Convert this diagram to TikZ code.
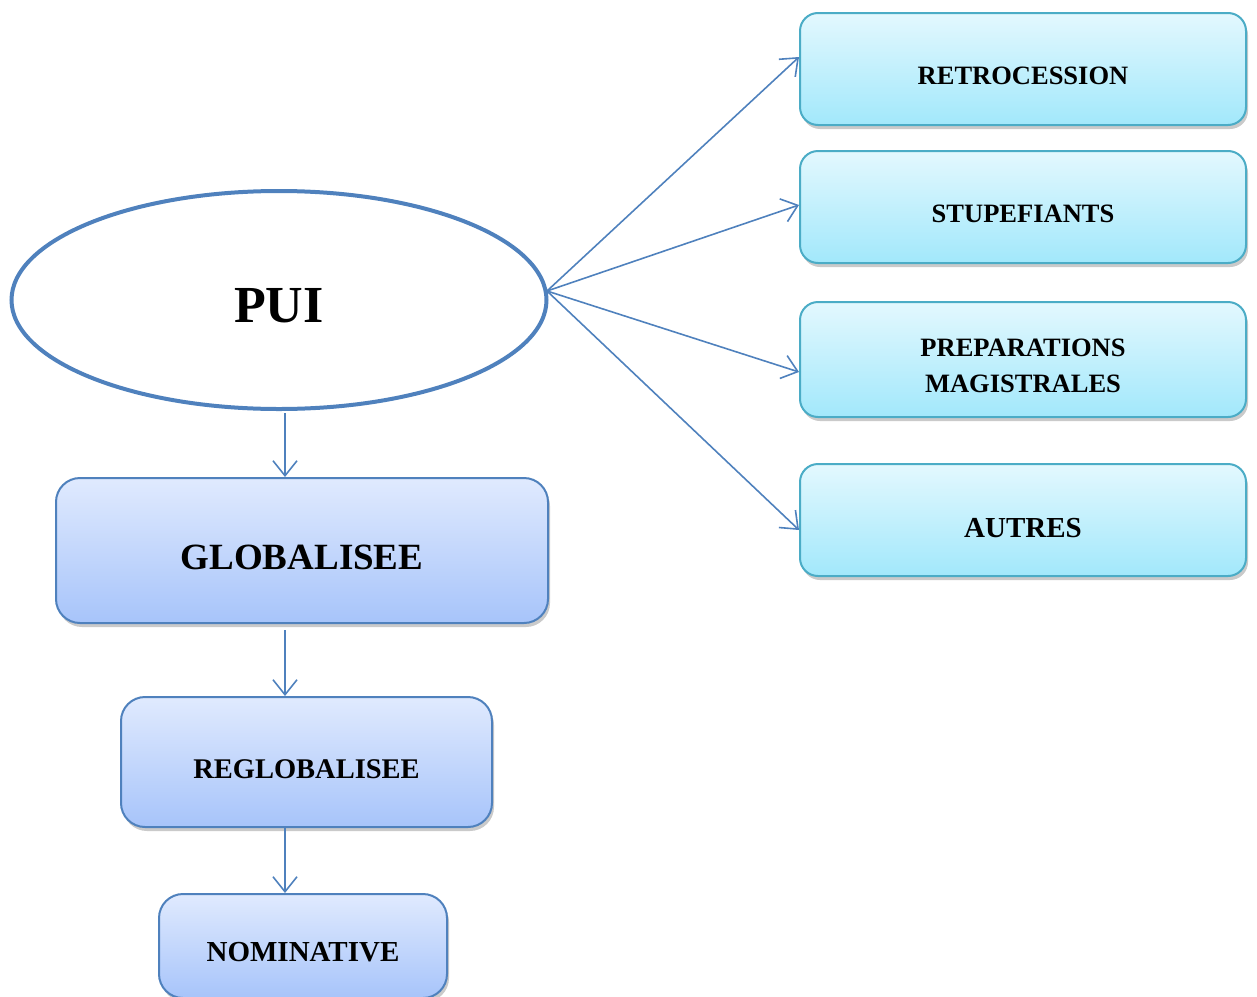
\documentclass[tikz,border=0pt]{standalone}
\usepackage{fontspec}
\setmainfont{Liberation Serif}
\usetikzlibrary{arrows.meta,shadows,shapes.geometric}

\definecolor{edgeblue}{HTML}{4F81BD}
\definecolor{lavtop}{HTML}{E0EAFE}
\definecolor{lavbot}{HTML}{A7C4FA}
\definecolor{cyanedge}{HTML}{4BACC6}
\definecolor{cyantop}{HTML}{E3F8FE}
\definecolor{cyanbot}{HTML}{A2E8FB}

% lower a label visually while keeping its box size
\newcommand{\dropby}[2]{\raisebox{-#1}[\height][\depth]{#2}}

\tikzset{
  boxbase/.style={draw, line width=2pt, rounded corners=24pt, anchor=north west,
    inner sep=0pt, align=center, font=\bfseries,
    drop shadow={shadow xshift=2pt, shadow yshift=-4pt, opacity=0.35, fill=black!60}},
  bluebox/.style={boxbase, draw=edgeblue, top color=lavtop, bottom color=lavbot},
  cyanbox/.style={boxbase, draw=cyanedge, top color=cyantop, bottom color=cyanbot, rounded corners=18pt},
  link/.style={draw=edgeblue, line width=1.6pt,
    -{Straight Barb[length=15pt, width=24pt, line width=1.6pt]}},
}

\begin{document}
\begin{tikzpicture}[x=1pt, y=-1pt]
  \useasboundingbox (0,0) rectangle (1257,996);

  % main ellipse
  \node[ellipse, draw=edgeblue, line width=4pt, fill=white,
        minimum width=535pt, minimum height=218pt, inner sep=0pt,
        font=\fontsize{52}{56}\selectfont\bfseries] (pui) at (279,300) {\dropby{6pt}{PUI}};

  % left column
  \node[bluebox, minimum width=492pt, minimum height=145pt,
        font=\fontsize{37}{40}\selectfont\bfseries] (glob) at (55,477) {\dropby{7pt}{GLOBALISEE}};
  \node[bluebox, minimum width=371pt, minimum height=130pt,
        font=\fontsize{28.5}{32}\selectfont\bfseries] (reglob) at (120,696) {\dropby{7pt}{REGLOBALISEE}};
  \node[bluebox, minimum width=288pt, minimum height=104pt,
        font=\fontsize{29}{32}\selectfont\bfseries] (nomin) at (158,893) {\dropby{6pt}{NOMINATIVE}};

  % right column
  \node[cyanbox, minimum width=446pt, minimum height=112pt,
        font=\fontsize{26.5}{30}\selectfont\bfseries] (retro) at (799,12) {\dropby{7pt}{RETROCESSION}};
  \node[cyanbox, minimum width=446pt, minimum height=112pt,
        font=\fontsize{26.5}{30}\selectfont\bfseries] (stup) at (799,150) {\dropby{7pt}{STUPEFIANTS}};
  \node[cyanbox, minimum width=446pt, minimum height=115pt,
        font=\fontsize{26.5}{36}\selectfont\bfseries] (prep) at (799,301)
        {\dropby{8pt}{\begin{tabular}{@{}c@{}}PREPARATIONS\\MAGISTRALES\end{tabular}}};
  \node[cyanbox, minimum width=446pt, minimum height=112pt,
        font=\fontsize{29}{32}\selectfont\bfseries] (autres) at (799,463) {\dropby{8pt}{AUTRES}};

  % connectors
  \coordinate (hub) at (547,291);
  \draw[link] (pui.south -| 285,0) ++(0,2) -- (glob.north -| 285,0);
  \draw[link] (285,630) -- (reglob.north -| 285,0);
  \draw[link] (reglob.south -| 285,0) -- (nomin.north -| 285,0);
  \draw[link] (hub) -- (retro.west |- 0,57);
  \draw[link] (hub) -- (stup.west |- 0,205);
  \draw[link] (hub) -- (prep.west |- 0,372);
  \draw[link] (hub) -- (autres.west |- 0,530);
\end{tikzpicture}
\end{document}
